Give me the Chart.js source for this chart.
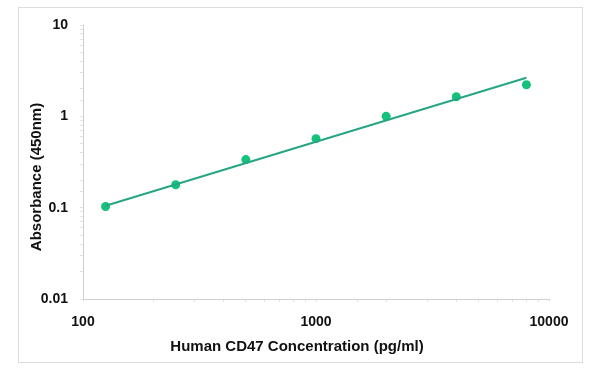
<!DOCTYPE html>
<html>
<head>
<meta charset="utf-8">
<script src="https://cdn.jsdelivr.net/npm/chart.js@4"></script>
<style>
  html, body { margin: 0; padding: 0; background: #fff; }
  #wrap { width: 600px; height: 373px; }
</style>
</head>
<body>
<div id="wrap"><canvas id="curve"></canvas></div>
<script>
// standard curve values
const concentrations = [125, 250, 500, 1000, 2000, 4000, 8000];
const absorbance     = [0.103, 0.178, 0.336, 0.57, 1.0, 1.64, 2.22];
// fitted line end points
const fitX = [125, 8000];
const fitY = [0.105, 2.65];

const xTicks = [100, 1000, 10000];
const yTicks = [0.01, 0.1, 1, 10];
const xTitle = 'Human CD47 Concentration (pg/ml)';
const yTitle = 'Absorbance (450nm)';

const pointColor = '#14c27c';
const lineColor  = '#27a584';
const axisColor  = '#cfcfcf';
const font = 'Arial, "Liberation Sans", sans-serif';

// outer frame + axis titles (placed a bit off-centre like the original)
const framePlugin = {
  id: 'frame',
  beforeDraw(chart) {
    const c = chart.ctx;
    c.save();
    c.strokeStyle = '#dcdcdc';
    c.lineWidth = 1;
    c.strokeRect(18.5, 7.5, 564, 355);
    c.restore();
  },
  afterDraw(chart) {
    const c = chart.ctx;
    c.save();
    c.fillStyle = '#111';
    c.font = 'bold 15px ' + font;
    c.textAlign = 'center';
    c.textBaseline = 'middle';
    c.fillText(xTitle, 297, 347);
    c.translate(37, 177);
    c.rotate(-Math.PI / 2);
    c.fillText(yTitle, 0, 0);
    c.restore();
  }
};

function majorOnly(list) {
  return function (v) {
    return list.includes(v) ? String(v) : '';
  };
}

new Chart(document.getElementById('curve').getContext('2d'), {
  type: 'scatter',
  data: {
    datasets: [
      {
        data: fitX.map((x, i) => ({ x, y: fitY[i] })),
        showLine: true,
        borderColor: lineColor,
        borderWidth: 2,
        pointRadius: 0
      },
      {
        data: concentrations.map((x, i) => ({ x, y: absorbance[i] })),
        backgroundColor: pointColor,
        borderColor: pointColor,
        pointRadius: 4.5,
        borderWidth: 0
      }
    ]
  },
  options: {
    responsive: true,
    maintainAspectRatio: false,
    animation: false,
    layout: { padding: { left: 18, right: 51, top: 25, bottom: 12 } },
    plugins: { legend: { display: false }, tooltip: { enabled: false } },
    scales: {
      x: {
        type: 'logarithmic',
        min: 100,
        max: 10000,
        afterFit(s) { s.height = 62; },
        border: { color: axisColor },
        grid: { drawOnChartArea: false, color: '#e2e2e2', tickLength: 3 },
        ticks: {
          autoSkip: false,
          maxRotation: 0,
          padding: 12,
          color: '#111',
          font: { family: font, size: 14, weight: 'bold' },
          callback: majorOnly(xTicks)
        }
      },
      y: {
        type: 'logarithmic',
        min: 0.01,
        max: 10,
        afterFit(s) { s.width = 65; },
        border: { color: axisColor },
        grid: { drawOnChartArea: false, color: '#e2e2e2', tickLength: 3 },
        ticks: {
          autoSkip: false,
          padding: 12,
          color: '#111',
          font: { family: font, size: 14, weight: 'bold' },
          callback: majorOnly(yTicks)
        }
      }
    }
  },
  plugins: [framePlugin]
});
</script>
</body>
</html>
